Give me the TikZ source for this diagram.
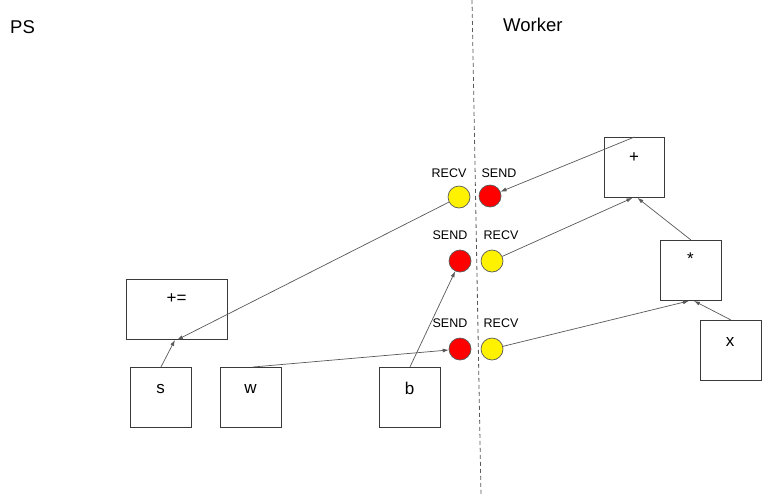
\documentclass[tikz,border=0pt]{standalone}
\usepackage{fontspec}
\setmainfont{Liberation Sans}
\usetikzlibrary{arrows.meta}
\definecolor{edgegray}{HTML}{595959}
\definecolor{boxgray}{HTML}{3A3A3A}
\tikzset{
  opbox/.style={draw=boxgray, line width=0.9pt, fill=white, minimum width=#1, minimum height=60pt, inner sep=0pt, anchor=north west},
  opbox/.default=61pt,
  boxlabel/.style={font=\fontsize{17}{19}\selectfont, inner sep=0pt, anchor=center},
  port/.style={circle, draw=edgegray, line width=0.7pt, minimum size=22pt, inner sep=0pt},
  recvport/.style={port, fill=yellow},
  sendport/.style={port, fill=red},
  portlabel/.style={font=\fontsize{12.5}{14}\selectfont, inner sep=0pt, anchor=center},
  title/.style={font=\fontsize{18.5}{21}\selectfont, inner sep=0pt, anchor=base west},
  flow/.style={draw=edgegray, line width=0.7pt, -{Latex[length=6pt,width=4pt]}},
  divider/.style={draw=edgegray, line width=0.8pt, dash pattern=on 4pt off 3pt}
}
\begin{document}
\begin{tikzpicture}[x=1pt,y=-1pt]
\useasboundingbox[fill=white] (0,0) rectangle (762,496);

% divider
\coordinate (dtop) at (472,0);
\coordinate (dbot) at (481,496);
\draw[divider] (dtop) -- (dbot);

% titles
\node[title] (ps) at (10,33) {PS};
\node[title] (wk) at (503,31) {Worker};

% boxes
\node[opbox=101pt] (pe) at (126,279) {};
\node[boxlabel] (pel) at (176.5,299) {+=};
\node[opbox] (s) at (130,367) {};
\node[boxlabel] (sl) at (160.5,389) {s};
\node[opbox] (w) at (220,367) {};
\node[boxlabel] (wl) at (250.5,389) {w};
\node[opbox] (b) at (379,367) {};
\node[boxlabel] (bl) at (409.5,388) {b};
\node[opbox=60pt] (plus) at (604,137) {};
\node[boxlabel] (plusl) at (634,158) {+};
\node[opbox] (star) at (660,240) {};
\node[boxlabel] (starl) at (690.5,259) {*};
\node[opbox] (x) at (700,320) {};
\node[boxlabel] (xl) at (730,342) {x};

% ports
\node[recvport] (y1) at (459,197) {};
\node[sendport] (r1) at (490,196) {};
\node[sendport] (r2) at (460,261) {};
\node[recvport] (y2) at (492,261) {};
\node[sendport] (r3) at (460,349) {};
\node[recvport] (y3) at (492,349) {};

\node[portlabel] (l1a) at (449,173) {RECV};
\node[portlabel] (l1b) at (499,173) {SEND};
\node[portlabel] (l2a) at (450,235) {SEND};
\node[portlabel] (l2b) at (501,235) {RECV};
\node[portlabel] (l3a) at (450,323) {SEND};
\node[portlabel] (l3b) at (501,323) {RECV};

% connectors
\draw[flow] (plus.north) -- (r1);
\draw[flow] (y1) -- (pe.south);
\draw[flow] (s.north) -- ([xshift=-2pt]pe.south);
\draw[flow] ([xshift=2pt]w.north) -- (r3);
\draw[flow] (b.north) -- (r2);
\draw[flow] (y2) -- ([xshift=-2pt]plus.south);
\draw[flow] (star.north) -- ([xshift=3pt]plus.south);
\draw[flow] (y3) -- ([xshift=-2pt]star.south);
\draw[flow] (x.north) -- ([xshift=3pt]star.south);
\end{tikzpicture}
\end{document}
